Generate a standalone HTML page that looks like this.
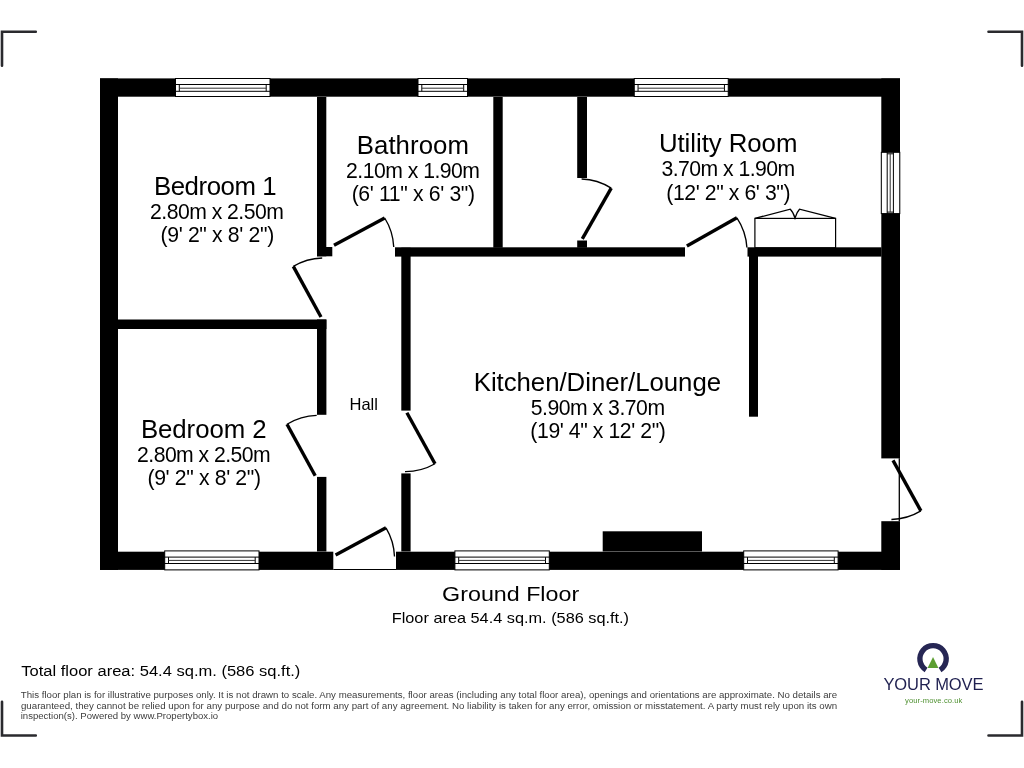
<!DOCTYPE html>
<html><head><meta charset="utf-8"><style>
html,body{margin:0;padding:0;background:#fff;width:1024px;height:768px;overflow:hidden}
svg{display:block;will-change:transform}
</style></head><body>
<svg width="1024" height="768" viewBox="0 0 1024 768">
<g fill="#000"><rect x="100" y="78.4" width="800" height="18.3" /><rect x="100" y="78.4" width="18" height="491.5" /><rect x="881.3" y="78.4" width="18.7" height="380.0" /><rect x="881.3" y="521.2" width="18.7" height="48.7" /><rect x="100" y="551.7" width="233.3" height="18.2" /><rect x="396" y="551.7" width="504" height="18.2" /><rect x="317" y="97" width="9.3" height="159.3" /><rect x="317" y="247" width="15.3" height="9.3" /><rect x="493.3" y="97" width="9.4" height="150.7" /><rect x="577.2" y="97" width="9.8" height="81" /><rect x="577.2" y="240.5" width="9.8" height="7.2" /><rect x="395" y="247.3" width="290" height="9.3" /><rect x="747.5" y="247.3" width="134.0" height="9.3" /><rect x="749" y="256" width="9" height="160.7" /><rect x="401.3" y="247.7" width="9.3" height="162.9" /><rect x="401.3" y="473.4" width="9.3" height="78.1" /><rect x="118" y="319.5" width="208.4" height="9.5" /><rect x="317" y="319.5" width="9.4" height="95.3" /><rect x="317" y="476.9" width="9.4" height="74.6" /><rect x="602.7" y="531.3" width="99.3" height="20.2" /></g><rect x="175.5" y="78.5" width="94.5" height="18" fill="#fff" stroke="#000" stroke-width="1"/><path d="M175 84.5H270.5M175 91.3H270.5M179.3 84.5V91.3M266.2 84.5V91.3" stroke="#000" stroke-width="1" fill="none"/><path d="M179.3 88.2H266.2" stroke="#333" stroke-width="1" fill="none"/><rect x="418.0" y="78.5" width="49.5" height="18" fill="#fff" stroke="#000" stroke-width="1"/><path d="M417.5 84.5H468M417.5 91.3H468M421.8 84.5V91.3M463.7 84.5V91.3" stroke="#000" stroke-width="1" fill="none"/><path d="M421.8 88.2H463.7" stroke="#333" stroke-width="1" fill="none"/><rect x="634.25" y="78.5" width="94.0" height="18" fill="#fff" stroke="#000" stroke-width="1"/><path d="M633.75 84.5H728.75M633.75 91.3H728.75M638.05 84.5V91.3M724.45 84.5V91.3" stroke="#000" stroke-width="1" fill="none"/><path d="M638.05 88.2H724.45" stroke="#333" stroke-width="1" fill="none"/><rect x="164.7" y="550.9" width="94.3" height="19.0" fill="#fff" stroke="#000" stroke-width="1"/><path d="M164.2 557.1H259.5M164.2 563.5H259.5M168.5 557.1V563.5M255.2 557.1V563.5" stroke="#000" stroke-width="1" fill="none"/><path d="M168.5 560.4H255.2" stroke="#333" stroke-width="1" fill="none"/><rect x="454.9" y="550.9" width="94.4" height="19.0" fill="#fff" stroke="#000" stroke-width="1"/><path d="M454.4 557.1H549.8M454.4 563.5H549.8M458.7 557.1V563.5M545.5 557.1V563.5" stroke="#000" stroke-width="1" fill="none"/><path d="M458.7 560.4H545.5" stroke="#333" stroke-width="1" fill="none"/><rect x="743.7" y="550.9" width="94.4" height="19.0" fill="#fff" stroke="#000" stroke-width="1"/><path d="M743.2 557.1H838.6M743.2 563.5H838.6M747.5 557.1V563.5M834.3000000000001 557.1V563.5" stroke="#000" stroke-width="1" fill="none"/><path d="M747.5 560.4H834.3000000000001" stroke="#333" stroke-width="1" fill="none"/><rect x="881.3" y="152.3" width="18.5" height="61.3" fill="#fff" stroke="#000" stroke-width="1"/><path d="M887.2 151.8V214.1M893.4 151.8V214.1M887.2 153.8H893.4M887.2 212.1H893.4" stroke="#000" stroke-width="1" fill="none"/><path d="M890.2 153.8V212.1" stroke="#333" stroke-width="1" fill="none"/><line x1="334" y1="245.3" x2="384.7" y2="218" stroke="#000" stroke-width="3.4"/><path d="M384.7 218 A60 60 0 0 1 393.75 247" fill="none" stroke="#000" stroke-width="1.35"/><line x1="321" y1="317" x2="293.3" y2="266.4" stroke="#000" stroke-width="3.4"/><path d="M293.3 266.4 A60 60 0 0 1 322.2 258" fill="none" stroke="#000" stroke-width="1.35"/><line x1="315.2" y1="475.8" x2="287" y2="424.2" stroke="#000" stroke-width="3.4"/><path d="M287 424.2 A60 60 0 0 1 316.7 415.3" fill="none" stroke="#000" stroke-width="1.35"/><line x1="406.9" y1="412.8" x2="435" y2="463.75" stroke="#000" stroke-width="3.4"/><path d="M435 463.75 A60 60 0 0 1 405 471.6" fill="none" stroke="#000" stroke-width="1.35"/><line x1="335.6" y1="555" x2="386" y2="527.8" stroke="#000" stroke-width="3.4"/><path d="M386 527.8 A60 60 0 0 1 394.5 556.6" fill="none" stroke="#000" stroke-width="1.35"/><line x1="582.3" y1="238.9" x2="611.25" y2="188.1" stroke="#000" stroke-width="3.4"/><path d="M611.25 188.1 A60 60 0 0 0 581.6 179" fill="none" stroke="#000" stroke-width="1.35"/><line x1="686.9" y1="246" x2="736.9" y2="217.8" stroke="#000" stroke-width="3.4"/><path d="M736.9 217.8 A60 60 0 0 1 746.9 247.5" fill="none" stroke="#000" stroke-width="1.35"/><line x1="893" y1="460.4" x2="920.9" y2="510.9" stroke="#000" stroke-width="3.4"/><path d="M920.9 510.9 A60 60 0 0 1 891.4 519.5" fill="none" stroke="#000" stroke-width="1.35"/><line x1="333.3" y1="569.5" x2="396" y2="569.5" stroke="#000" stroke-width="1"/><line x1="899.3" y1="458.3" x2="899.3" y2="521.2" stroke="#000" stroke-width="1.3"/><rect x="754.9" y="218.4" width="80.7" height="29.3" fill="#fff" stroke="#000" stroke-width="1.2"/><path d="M754.9 218.4 L790.3 209.2 Q793.2 212 795 218 Q796.8 212 799.5 209.2 L835.6 218.4" fill="none" stroke="#000" stroke-width="1.3"/><path d="M35.8 31.8 H2 V65.8" stroke="#2a2a2e" stroke-width="2.6" fill="none" stroke-linecap="round"/><path d="M988.5 31.8 H1022 V65.8" stroke="#2a2a2e" stroke-width="2.6" fill="none" stroke-linecap="round"/><path d="M2 701.7 V735.5 H35.8" stroke="#2a2a2e" stroke-width="2.6" fill="none" stroke-linecap="round"/><path d="M1022 701.7 V735.5 H988.5" stroke="#2a2a2e" stroke-width="2.6" fill="none" stroke-linecap="round"/>
<text x="153.89" y="194.6" font-family="Liberation Sans" font-size="25.8" textLength="122.69" lengthAdjust="spacing" fill="#000">Bedroom 1</text><text x="150.00" y="218.7" font-family="Liberation Sans" font-size="21.2" textLength="133.89" lengthAdjust="spacing" fill="#000">2.80m x 2.50m</text><text x="160.49" y="241.9" font-family="Liberation Sans" font-size="21.2" textLength="113.77" lengthAdjust="spacing" fill="#000">(9' 2&quot; x 8' 2&quot;)</text><text x="356.72" y="153.7" font-family="Liberation Sans" font-size="25.8" textLength="112.28" lengthAdjust="spacing" fill="#000">Bathroom</text><text x="346.07" y="177.9" font-family="Liberation Sans" font-size="21.2" textLength="133.88" lengthAdjust="spacing" fill="#000">2.10m x 1.90m</text><text x="351.67" y="201.0" font-family="Liberation Sans" font-size="21.2" textLength="123.37" lengthAdjust="spacing" fill="#000">(6' 11&quot; x 6' 3&quot;)</text><text x="658.89" y="152.4" font-family="Liberation Sans" font-size="25.8" textLength="138.52" lengthAdjust="spacing" fill="#000">Utility Room</text><text x="661.44" y="176.0" font-family="Liberation Sans" font-size="21.2" textLength="133.73" lengthAdjust="spacing" fill="#000">3.70m x 1.90m</text><text x="666.27" y="199.5" font-family="Liberation Sans" font-size="21.2" textLength="124.21" lengthAdjust="spacing" fill="#000">(12' 2&quot; x 6' 3&quot;)</text><text x="473.72" y="390.7" font-family="Liberation Sans" font-size="25.8" textLength="247.38" lengthAdjust="spacing" fill="#000">Kitchen/Diner/Lounge</text><text x="530.71" y="414.9" font-family="Liberation Sans" font-size="21.2" textLength="134.36" lengthAdjust="spacing" fill="#000">5.90m x 3.70m</text><text x="530.35" y="438.3" font-family="Liberation Sans" font-size="21.2" textLength="135.57" lengthAdjust="spacing" fill="#000">(19' 4&quot; x 12' 2&quot;)</text><text x="140.88" y="437.7" font-family="Liberation Sans" font-size="25.8" textLength="125.75" lengthAdjust="spacing" fill="#000">Bedroom 2</text><text x="137.07" y="461.9" font-family="Liberation Sans" font-size="21.2" textLength="133.57" lengthAdjust="spacing" fill="#000">2.80m x 2.50m</text><text x="147.49" y="485.3" font-family="Liberation Sans" font-size="21.2" textLength="113.54" lengthAdjust="spacing" fill="#000">(9' 2&quot; x 8' 2&quot;)</text><text x="349.59" y="409.9" font-family="Liberation Sans" font-size="16.5" textLength="28.21" lengthAdjust="spacing" fill="#000">Hall</text><text x="442.13" y="601.2" font-family="Liberation Sans" font-size="20.5" textLength="137.01" lengthAdjust="spacingAndGlyphs" fill="#000">Ground Floor</text><text x="391.74" y="622.8" font-family="Liberation Sans" font-size="14.5" textLength="237.32" lengthAdjust="spacingAndGlyphs" fill="#000">Floor area 54.4 sq.m. (586 sq.ft.)</text><text x="21.27" y="676.0" font-family="Liberation Sans" font-size="14.0" textLength="279.09" lengthAdjust="spacingAndGlyphs" fill="#000">Total floor area: 54.4 sq.m. (586 sq.ft.)</text><text x="20.85" y="698.0" font-family="Liberation Sans" font-size="8.3" textLength="816.31" lengthAdjust="spacingAndGlyphs" fill="#3c3c3c">This floor plan is for illustrative purposes only. It is not drawn to scale. Any measurements, floor areas (including any total floor area), openings and orientations are approximate. No details are</text><text x="20.94" y="708.5" font-family="Liberation Sans" font-size="8.3" textLength="816.17" lengthAdjust="spacingAndGlyphs" fill="#3c3c3c">guaranteed, they cannot be relied upon for any purpose and do not form any part of any agreement. No liability is taken for any error, omission or misstatement. A party must rely upon its own</text><text x="20.69" y="718.6" font-family="Liberation Sans" font-size="8.3" textLength="197.51" lengthAdjust="spacingAndGlyphs" fill="#3c3c3c">inspection(s). Powered by www.Propertybox.io</text><text x="883.46" y="689.7" font-family="Liberation Sans" font-size="16.5" textLength="99.95" lengthAdjust="spacing" fill="#1f2050">YOUR MOVE</text><text x="905.00" y="702.8" font-family="Liberation Sans" font-size="7.6" textLength="57.40" lengthAdjust="spacing" fill="#4e9030">your-move.co.uk</text>
<path d="M924.65 672.2 A15.85 15.85 0 1 1 941.45 672.2 L938.6 667.65 A10.5 10.5 0 1 0 927.5 667.65 Z" fill="#262654"/><path d="M933.03 657.05 L938.4 667.9 L927.6 667.9 Z" fill="#5c9e32"/>
</svg>
</body></html>
